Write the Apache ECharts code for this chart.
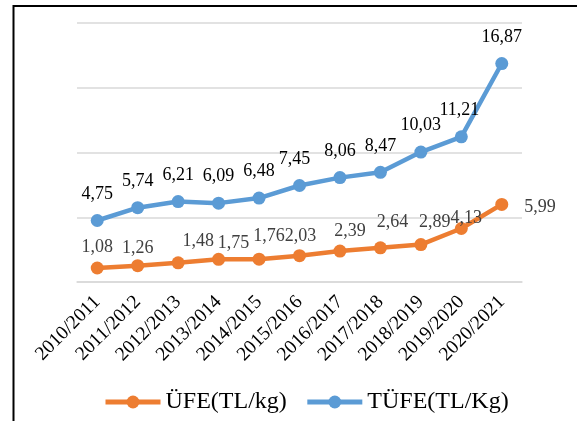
<!DOCTYPE html>
<html>
<head>
<meta charset="utf-8">
<script src="https://cdn.jsdelivr.net/npm/echarts@6/dist/echarts.min.js"></script>
<style>
  html, body { margin: 0; padding: 0; background: #fff; }
  #chart { width: 577px; height: 421px; }
</style>
</head>
<body>
<div id="chart"></div>
<script>
// Season labels on the x axis
const seasons = [
  '2010/2011', '2011/2012', '2012/2013', '2013/2014', '2014/2015', '2015/2016',
  '2016/2017', '2017/2018', '2018/2019', '2019/2020', '2020/2021'
]

// ÜFE and TÜFE prices (TL/kg)
const ufe = [1.08, 1.26, 1.48, 1.75, 1.76, 2.03, 2.39, 2.64, 2.89, 4.13, 5.99]
const tufe = [4.75, 5.74, 6.21, 6.09, 6.48, 7.45, 8.06, 8.47, 10.03, 11.21, 16.87]

// y axis ticks (no labels shown, only gridlines)
const yTicks = [0, 5, 10, 15, 20]

// label nudges, copied from the hand-placed labels of the original
const ufeLabelShift = [[0, 0], [0, 3], [20, -1], [15, 4], [10, -2], [1, 1], [10, 1], [12, -5], [14, -2], [5, 10], null]
const tufeLabelShift = [[0, 0], [0, 0], [0, 0], [0, 0], [0, 0], [-5, 0], [0, 0], [0, 0], [0, 0], [-2, 0], [0, 0]]

const ORANGE = '#ED7D31'
const BLUE = '#5B9BD5'
const GRID_LINE = '#d9d9d9'
const FONT = '"Liberation Serif", "Times New Roman", serif'

const fmt = v => v.toFixed(2).replace('.', ',')

const chart = echarts.init(document.getElementById('chart'))
chart.setOption({
  animation: false,
  textStyle: { fontFamily: FONT },
  graphic: [{
    type: 'rect',
    shape: { x: 13.5, y: 6, width: 700, height: 600 },
    style: { fill: 'none', stroke: '#000', lineWidth: 2 },
    silent: true
  }],
  grid: { left: 77, right: 55, top: 23, bottom: 139 },
  legend: {
    left: 103,
    top: 390,
    padding: 0,
    itemWidth: 55,
    itemHeight: 16,
    itemGap: 18,
    lineStyle: { width: 5 },
    textStyle: { fontFamily: FONT, fontSize: 24, color: '#000' },
    data: ['ÜFE(TL/kg)', 'TÜFE(TL/Kg)']
  },
  xAxis: {
    type: 'category',
    data: seasons,
    boundaryGap: true,
    axisLine: { lineStyle: { color: GRID_LINE, width: 1.5 } },
    axisTick: { show: false },
    axisLabel: { color: '#000', fontFamily: FONT, fontSize: 19.5, rotate: 45, margin: 17, interval: 0 }
  },
  yAxis: {
    type: 'value',
    min: yTicks[0],
    max: yTicks[yTicks.length - 1],
    interval: yTicks[1] - yTicks[0],
    axisLine: { show: false },
    axisTick: { show: false },
    axisLabel: { show: false },
    splitLine: { lineStyle: { color: GRID_LINE, width: 1.5 } }
  },
  series: [
    {
      name: 'ÜFE(TL/kg)',
      type: 'line',
      color: ORANGE,
      symbol: 'circle',
      symbolSize: 13,
      lineStyle: { width: 4.5, color: ORANGE },
      itemStyle: { color: ORANGE },
      data: ufe.map((v, i) => ({
        value: v,
        label: ufeLabelShift[i]
          ? { position: 'top', distance: 5, offset: ufeLabelShift[i] }
          : { position: 'right', distance: 16, offset: [0, 3] }
      })),
      label: {
        show: true,
        color: '#404040',
        fontFamily: FONT,
        fontSize: 18,
        formatter: p => fmt(p.value)
      },
      z: 2
    },
    {
      name: 'TÜFE(TL/Kg)',
      type: 'line',
      color: BLUE,
      symbol: 'circle',
      symbolSize: 13,
      lineStyle: { width: 4.5, color: BLUE },
      itemStyle: { color: BLUE },
      data: tufe.map((v, i) => ({ value: v, label: { offset: tufeLabelShift[i] } })),
      label: {
        show: true,
        position: 'top',
        distance: 11,
        color: '#000',
        fontFamily: FONT,
        fontSize: 18,
        formatter: p => fmt(p.value)
      },
      z: 3
    }
  ]
})
</script>
</body>
</html>
